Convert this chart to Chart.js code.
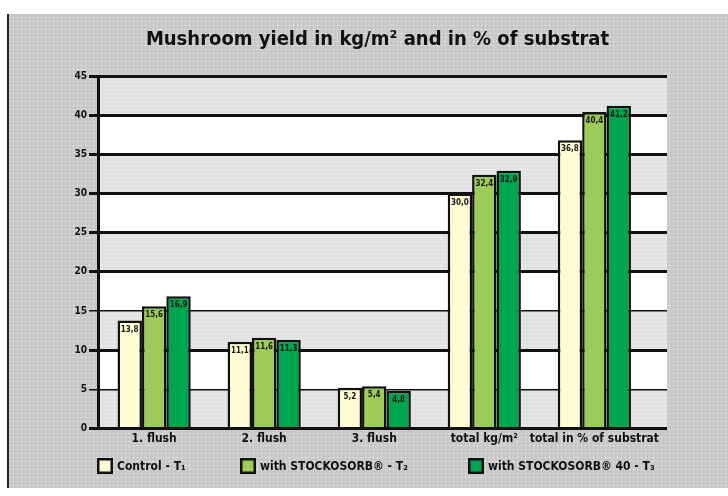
<!DOCTYPE html>
<html><head><meta charset="utf-8">
<script src="https://cdn.jsdelivr.net/npm/chart.js@4/dist/chart.umd.min.js"></script>
<style>html,body{margin:0;padding:0;background:#fff}</style>
</head><body>
<canvas id="c" width="728" height="496" style="width:728px;height:496px;display:block"></canvas>
<script>
// ---- data ----
const categories = ["1. flush", "2. flush", "3. flush", "total kg/m²", "total in % of substrat"];
const controlT1 = [13.8, 11.1, 5.2, 30.0, 36.8];
const stockosorbT2 = [15.6, 11.6, 5.4, 32.4, 40.4];
const stockosorb40T3 = [16.9, 11.3, 4.8, 32.9, 41.2];
const seriesNames = ["Control - T₁", "with STOCKOSORB® - T₂", "with STOCKOSORB® 40 - T₃"];
const yTickValues = [0, 5, 10, 15, 20, 25, 30, 35, 40, 45];
const titleText = "Mushroom yield in kg/m² and in % of substrat";

const FONT = "'Liberation Sans Narrow','DejaVu Sans Condensed','Roboto Condensed',sans-serif";
const LEGEND_X = [97, 240, 468];
const LEGEND_Y = 458;

function makePattern(base, dot, step) {
  const p = document.createElement('canvas');
  p.width = step; p.height = step;
  const g = p.getContext('2d');
  g.fillStyle = base; g.fillRect(0, 0, step, step);
  g.fillStyle = dot; g.fillRect(1, 1, 1, 1);
  return document.getElementById('c').getContext('2d').createPattern(p, 'repeat');
}
const panelFill = makePattern('#C9C9C9', '#EEF8F8', 4);
const bandFill = makePattern('#E2E2E2', '#F6FFFF', 4);

const toXY = arr => arr.map((v, i) => ({ x: i, y: v }));

const backgroundPlugin = {
  id: 'bg',
  afterLayout(chart) {
    if (chart.titleBlock) { chart.titleBlock.left += 40; chart.titleBlock.right += 40; }
  },
  beforeDraw(chart) {
    const ctx = chart.ctx;
    const { left, right } = chart.chartArea;
    const y = chart.scales.y;
    ctx.save();
    ctx.fillStyle = '#ffffff';
    ctx.fillRect(0, 0, chart.width, chart.height);
    ctx.fillStyle = panelFill;
    ctx.fillRect(8, 14, 720, 474);
    ctx.fillStyle = '#222';
    ctx.fillRect(7, 14, 2, 474);
    for (let i = 0; i < yTickValues.length - 1; i++) {
      const lo = yTickValues[i], hi = yTickValues[i + 1];
      const yt = y.getPixelForValue(hi), yb = y.getPixelForValue(lo);
      ctx.fillStyle = (i % 2 === 0) ? bandFill : '#ffffff';
      ctx.fillRect(left, yt, right - left, yb - yt);
    }
    ctx.restore();
  }
};

const valueLabelPlugin = {
  id: 'vals',
  afterDatasetsDraw(chart) {
    const ctx = chart.ctx;
    ctx.save();
    ctx.font = "bold 8px " + FONT;
    ctx.fillStyle = '#1a1a1a';
    ctx.textAlign = 'center';
    ctx.textBaseline = 'top';
    chart.data.datasets.forEach((ds, di) => {
      chart.getDatasetMeta(di).data.forEach((bar, i) => {
        const v = ds.data[i].y;
        ctx.fillText(v.toFixed(1).replace('.', ','), bar.x, bar.y + 5);
      });
    });
    ctx.restore();
  }
};

const legendPlugin = {
  id: 'customLegend',
  afterDraw(chart) {
    const ctx = chart.ctx;
    ctx.save();
    ctx.font = "bold 12px " + FONT;
    ctx.textBaseline = 'middle';
    ctx.textAlign = 'left';
    chart.data.datasets.forEach((ds, i) => {
      const x = LEGEND_X[i];
      ctx.fillStyle = ds.backgroundColor;
      ctx.fillRect(x, LEGEND_Y, 16, 16);
      ctx.lineWidth = 2.5;
      ctx.strokeStyle = ds.borderColor;
      ctx.strokeRect(x + 1.25, LEGEND_Y + 1.25, 13.5, 13.5);
      ctx.fillStyle = '#111';
      ctx.fillText(ds.label, x + 20, LEGEND_Y + 8.5);
    });
    ctx.restore();
  }
};

new Chart(document.getElementById('c'), {
  type: 'bar',
  data: {
    datasets: [
      { label: seriesNames[0], data: toXY(controlT1), backgroundColor: '#FFFBD2', borderColor: '#111', borderWidth: 2.5 },
      { label: seriesNames[1], data: toXY(stockosorbT2), backgroundColor: '#9CCB5A', borderColor: '#111', borderWidth: 2.5 },
      { label: seriesNames[2], data: toXY(stockosorb40T3), backgroundColor: '#00A54F', borderColor: '#111', borderWidth: 2.5 }
    ]
  },
  options: {
    responsive: false,
    animation: false,
    devicePixelRatio: 1,
    layout: { padding: { left: 8, right: 61, top: 14, bottom: 47 } },
    datasets: { bar: { categoryPercentage: 0.665, barPercentage: 1.0 } },
    scales: {
      x: {
        type: 'linear',
        offset: false,
        min: -0.51,
        max: 4.66,
        grid: { display: false, drawTicks: false },
        border: { display: false },
        afterBuildTicks(s) { s.ticks = categories.map((c, i) => ({ value: i })); },
        ticks: {
          autoSkip: false, maxRotation: 0, padding: 3,
          color: '#111',
          font: { family: FONT, size: 12, weight: 'bold' },
          callback: v => categories[v] ?? ''
        }
      },
      y: {
        min: 0, max: 45,
        afterFit(s) { s.width = 90; },
        afterBuildTicks(s) { s.ticks = yTickValues.map(v => ({ value: v })); },
        grid: {
          color: '#111',
          lineWidth: c => (c.tick && (c.tick.value === 5 || c.tick.value === 15)) ? 1.5 : 3,
          tickLength: 9,
          drawOnChartArea: true
        },
        border: { display: true, color: '#111', width: 3 },
        ticks: {
          padding: 2, color: '#111',
          font: { family: FONT, size: 10, weight: 'bold' }
        }
      }
    },
    plugins: {
      title: {
        display: true, text: titleText, color: '#111',
        font: { family: FONT, size: 20, weight: 'bold' },
        padding: { top: 14, bottom: 24 }
      },
      legend: { display: false },
      tooltip: { enabled: false }
    }
  },
  plugins: [backgroundPlugin, valueLabelPlugin, legendPlugin]
});
</script>
</body></html>
